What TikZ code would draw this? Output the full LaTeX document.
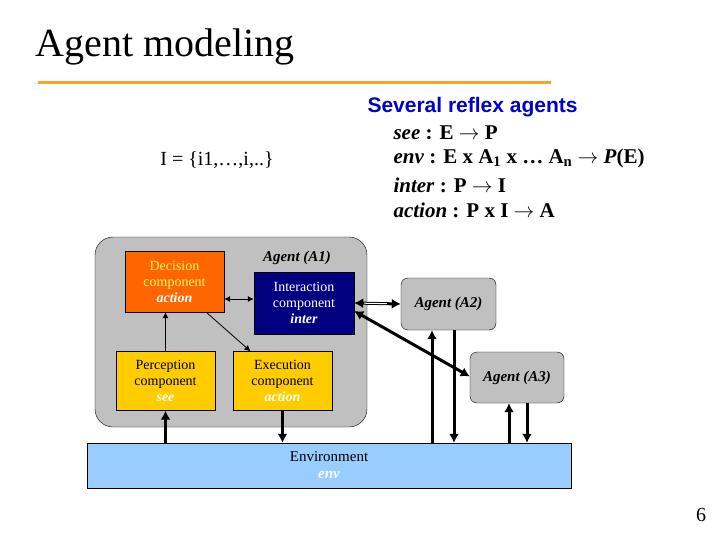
\documentclass[tikz,border=0pt]{standalone}
\usepackage{fontspec}
\setmainfont{Liberation Serif}
\newfontfamily\arialfont{Liberation Sans}
\usetikzlibrary{positioning,arrows.meta}
\definecolor{decorange}{HTML}{FF6600}
\definecolor{intnavy}{HTML}{000080}
\definecolor{compyellow}{HTML}{FFCC00}
\definecolor{envblue}{HTML}{99CCFF}
\definecolor{agentgray}{HTML}{C0C0C0}
\definecolor{titleline}{HTML}{F5A623}
\tikzset{
  comp/.style={draw, minimum width=99pt, minimum height=59pt, align=center, font=\fontsize{14}{16}\selectfont, inner sep=2pt},
  agent/.style={draw, fill=agentgray, rounded corners=7pt, font=\fontsize{15}{17}\selectfont\itshape\bfseries},
  thin arrow/.style={-{Latex[length=6pt,width=6pt]}, line width=0.8pt},
  fat arrow/.style={-{Latex[length=9pt,width=10pt]}, line width=3pt},
  fat both/.style={{Latex[length=9pt,width=10pt]}-{Latex[length=9pt,width=10pt]}, line width=3pt}
}
\begin{document}
\begin{tikzpicture}[x=1pt, y=-1pt]
  \useasboundingbox (0,0) rectangle (720,540);

  % Title
  \node[anchor=west, font=\fontsize{40}{42}\selectfont] (title) at (32,47) {Agent modeling};
  \draw[titleline, line width=3pt] (38,83) -- (551,83);

  % Formulas
  \node[font=\fontsize{20}{22}\selectfont] (iset) at (217,160) {I = \{i1,\ldots,i,..\}};
  \node[anchor=west, text=blue!80!black, font=\arialfont\bfseries\fontsize{21}{23}\selectfont] (several) at (364,107) {Several reflex agents};
  \node[anchor=west, font=\bfseries\fontsize{21}{23}\selectfont] (fsee) at (390,133) {\textit{see} : E $\rightarrow$ P};
  \node[anchor=west, font=\bfseries\fontsize{21}{23}\selectfont] (fenv) at (390,158) {\textit{env} : E x A\textsubscript{1} x \ldots\ A\textsubscript{n} $\rightarrow$ \textit{P}(E)};
  \node[anchor=west, font=\bfseries\fontsize{21}{23}\selectfont] (finter) at (390,185) {\textit{inter} : P $\rightarrow$ I};
  \node[anchor=west, font=\bfseries\fontsize{21}{23}\selectfont] (faction) at (390,210) {\textit{action} : P x I $\rightarrow$ A};

  % Agent A1 and its components
  \node[draw, fill=agentgray, rounded corners=18pt, minimum width=272pt, minimum height=190pt] (aone) at (231,332) {};
  \node[font=\fontsize{15}{17}\selectfont\itshape\bfseries] (aonelbl) at (297,258) {Agent (A1)};
  \node[comp, fill=decorange, text=yellow!60!white, minimum height=61pt] (decision) at (174.5,281.5)
    {Decision\\component\\\textcolor{white}{\bfseries\itshape action}};
  \node[comp, fill=intnavy, text=white, minimum width=100pt, minimum height=62pt] (interaction) at (304,303)
    {Interaction\\component\\\bfseries\itshape inter};
  \node[comp, fill=compyellow] (perception) at (165.5,381)
    {Perception\\component\\\textcolor{white}{\bfseries\itshape see}};
  \node[comp, fill=compyellow] (execution) at (282.5,381)
    {Execution\\component\\\textcolor{white}{\bfseries\itshape action}};

  % Other agents and environment
  \node[agent, minimum width=95pt, minimum height=52pt] (atwo) at (448.5,304) {Agent (A2)};
  \node[agent, minimum width=94pt, minimum height=51pt] (athree) at (517,377.5) {Agent (A3)};
  \node[draw, fill=envblue, minimum width=484pt, minimum height=45pt, align=center, font=\fontsize{15}{17}\selectfont] (env) at (329,465.5)
    {Environment\\\textcolor{white}{\bfseries\itshape env}};

  % Arrows inside A1
  \draw[{Latex[length=6pt,width=6pt]}-{Latex[length=6pt,width=6pt]}, line width=0.8pt] (decision.east |- 0,299) -- (interaction.west |- 0,299);
  \draw[thin arrow] (perception.north) -- (perception.north |- decision.south);
  \draw[thin arrow] ([xshift=-18pt]decision.south east) -- ([xshift=-32pt]execution.north);

  % Arrows between agents
  \draw[fat both] (interaction.east) -- (atwo.west);
  \draw[white, line width=1pt, shorten <=10pt, shorten >=14pt] (interaction.east) -- (atwo.west);
  \draw[fat both] ([yshift=-8pt]interaction.east) -- ([yshift=1pt]athree.west);

  % Arrows with the environment
  \draw[fat arrow] (env.north -| perception.south) -- (perception.south);
  \draw[fat arrow] (execution.south) -- (env.north -| execution.south);
  \draw[fat arrow] ([xshift=-16.5pt]atwo.south |- env.north) -- ([xshift=-16.5pt]atwo.south);
  \draw[fat arrow] ([xshift=5.5pt]atwo.south) -- ([xshift=5.5pt]atwo.south |- env.north);
  \draw[fat arrow] ([xshift=-8pt]athree.south |- env.north) -- ([xshift=-8pt]athree.south);
  \draw[fat arrow] ([xshift=10pt]athree.south) -- ([xshift=10pt]athree.south |- env.north);

  % Slide number
  \node[font=\fontsize{20}{22}\selectfont] (pagenum) at (701,515) {6};
\end{tikzpicture}
\end{document}
